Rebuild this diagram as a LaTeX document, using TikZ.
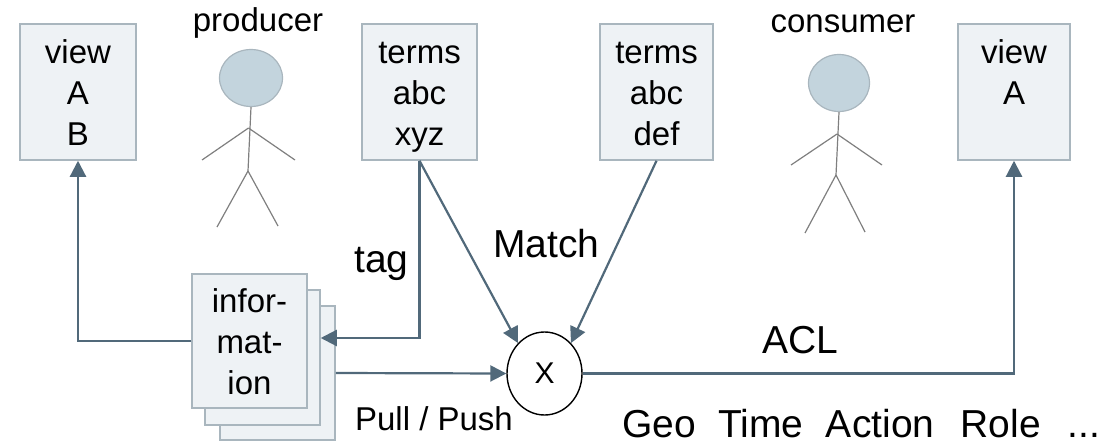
\documentclass[tikz,border=0pt]{standalone}
\usepackage{fontspec}
\setmainfont{Liberation Sans}
\usetikzlibrary{arrows.meta,shapes.geometric}
\definecolor{boxfill}{HTML}{EEF2F5}
\definecolor{boxline}{HTML}{A9B6BE}
\definecolor{flowline}{HTML}{51697A}
\definecolor{headfill}{HTML}{C3D4DD}
\definecolor{figline}{HTML}{7F7F7F}
\tikzset{
  card/.style={draw=boxline,fill=boxfill,line width=1.5pt,inner sep=0pt,align=center,
    font=\fontsize{33}{41}\selectfont,text height=106pt,text depth=0pt},
  sheet/.style={draw=boxline,fill=boxfill,line width=1.5pt,inner sep=0pt},
  flow/.style={draw=flowline,line width=2.2pt,-{Triangle[length=16pt,width=16pt]}},
  limb/.style={draw=figline,line width=1.2pt},
  head/.style={draw=boxline,fill=headfill,line width=1.2pt,ellipse,inner sep=0pt},
  small/.style={font=\fontsize{33}{41}\selectfont,inner sep=0pt,anchor=base},
  large/.style={font=\fontsize{39}{47}\selectfont,inner sep=0pt,anchor=base}
}
\begin{document}
\begin{tikzpicture}[x=1pt,y=-1pt]
  \useasboundingbox (0,0) rectangle (1115,447);
  % boxes along the top
  \node[card,minimum width=116pt,minimum height=136pt] (viewab) at (78,92) {view\\A\\B};
  \node[card,minimum width=115pt,minimum height=136pt] (termsxyz) at (419.5,92) {terms\\abc\\xyz};
  \node[card,minimum width=113pt,minimum height=136pt] (termsdef) at (656.5,92) {terms\\abc\\def};
  \node[card,minimum width=112pt,minimum height=136pt] (viewa) at (1014,92) {view\\A\\\mbox{}};
  % stack of information sheets
  \node[sheet,minimum width=115pt,minimum height=134pt] (infoc) at (277.5,373) {};
  \node[sheet,minimum width=115pt,minimum height=135pt] (infob) at (262.5,357.5) {};
  \node[card,minimum width=115pt,minimum height=134pt] (infoa) at (249.5,341) {infor-\\mat-\\ion};
  \node[draw=black,fill=white,line width=1.4pt,ellipse,minimum width=75pt,minimum height=83pt,
    inner sep=0pt,font=\fontsize{30}{36}\selectfont] (x) at (544.5,373.5) {\raisebox{-2pt}{X}};
  % producer
  \node[small] (producer) at (258,31) {producer};
  \node[head,minimum width=63pt,minimum height=57pt] (headp) at (251,78) {};
  \coordinate (neckp) at (248.5,128);
  \coordinate (hipp) at (248,171);
  \draw[limb] (headp.south) -- (hipp);
  \draw[limb] (neckp) -- (202,160);
  \draw[limb] (neckp) -- (295,160);
  \draw[limb] (hipp) -- (217,227);
  \draw[limb] (hipp) -- (278,226);
  % consumer
  \node[small] (consumer) at (843,32) {consumer};
  \node[head,minimum width=61pt,minimum height=57pt] (headc) at (839,83) {};
  \coordinate (neckc) at (837,134);
  \coordinate (hipc) at (836,175);
  \draw[limb] (headc.south) -- (hipc);
  \draw[limb] (neckc) -- (791,165);
  \draw[limb] (neckc) -- (882,165);
  \draw[limb] (hipc) -- (805,233);
  \draw[limb] (hipc) -- (865,232);
  % connectors
  \draw[flow] (infoa.west) -| (viewab.south);
  \draw[flow] (termsxyz.south) |- ([yshift=19.5pt]infob.east);
  \draw[flow] (termsxyz.south) -- (x.131);
  \draw[flow] (termsdef.south) -- (x.49);
  \draw[flow] (infoc.east) -- (x.west);
  \draw[flow] (x.east) -| (viewa.south);
  % labels
  \node[large] (tag) at (381.5,272) {tag};
  \node[large] (match) at (546.5,257) {Match};
  \node[large] (acl) at (800,353) {ACL};
  \node[small] (pull) at (434,430) {Pull / Push};
  \node[large] (geo) at (861,437) {Geo\hspace{0.3em} Time\hspace{0.3em} Action\hspace{0.4em} Role\hspace{0.4em} ...};
\end{tikzpicture}
\end{document}
